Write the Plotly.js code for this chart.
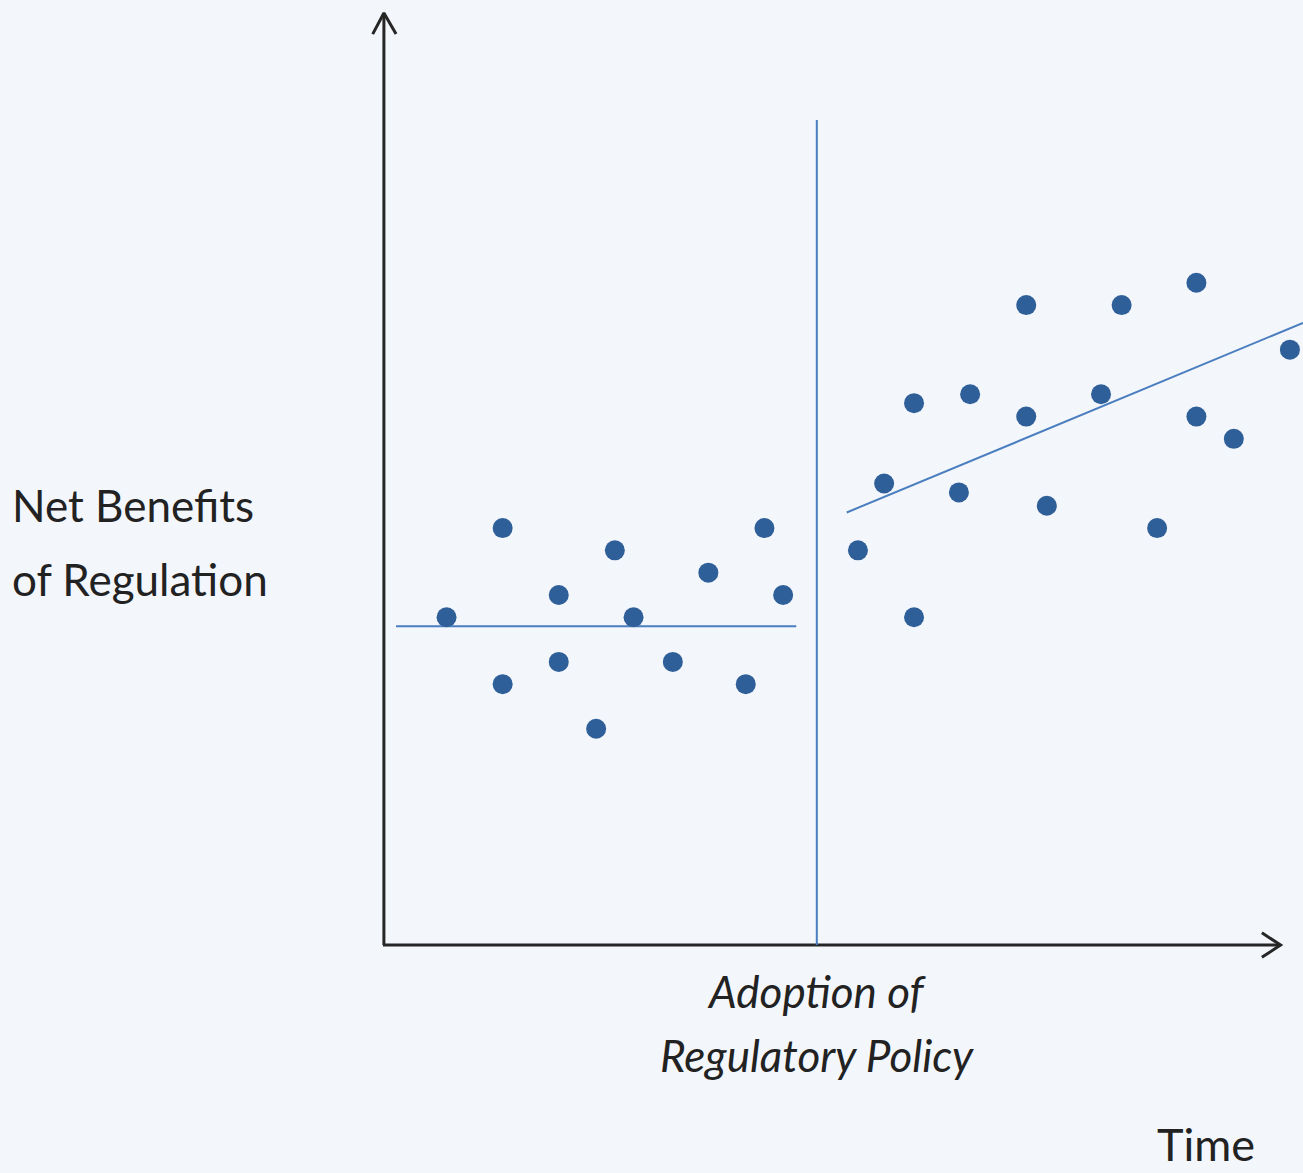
<!DOCTYPE html>
<html>
<head>
<meta charset="utf-8">
<script src="https://cdn.plot.ly/plotly-3.0.1.min.js"></script>
<style>html,body{margin:0;padding:0;background:#f3f6fb;}</style>
</head>
<body>
<div id="chart" style="width:1303px;height:1173px;"></div>
<script>
// Observations before adoption of the policy (time, net benefit)
const beforeX = [3.4, 6.4, 6.4, 9.4, 9.4, 11.4, 12.4, 13.4, 15.5, 17.4, 19.4, 20.4, 21.4];
const beforeY = [14.7, 18.7, 11.7, 15.7, 12.7, 9.7, 17.7, 14.7, 12.7, 16.7, 11.7, 18.7, 15.7];
// Observations after adoption
const afterX = [25.4, 26.8, 28.4, 28.4, 30.8, 31.4, 34.4, 34.4, 35.5, 38.4, 39.5, 41.4, 43.5, 43.5, 45.5, 48.5];
const afterY = [17.7, 20.7, 24.3, 14.7, 20.3, 24.7, 28.7, 23.7, 19.7, 24.7, 28.7, 18.7, 29.7, 23.7, 22.7, 26.7];
// Fitted lines
const beforeFitX = [0.7, 22.1];
const beforeFitY = [14.3, 14.3];
const afterFitX = [24.8, 49.2];
const afterFitY = [19.4, 27.9];
// Adoption marker
const adoptX = [23.2, 23.2];
const adoptY = [0, 37.0];
// Axes with arrowheads
const yAxisX = [0.05, 0.05];
const yAxisY = [0, 41.8];
const yHeadX = [-0.55, 0.05, 0.7];
const yHeadY = [40.85, 41.8, 40.85];
const xAxisX = [0, 48.0];
const xAxisY = [0, 0];
const xHeadX = [47.0, 48.0, 47.0];
const xHeadY = [0.55, 0, -0.55];

const lineBlue = '#4a7ebf';
const dotBlue = '#2f5f99';
const axisCol = '#262626';

const traces = [
  {x: yAxisX, y: yAxisY, mode: 'lines', line: {color: axisCol, width: 3}, hoverinfo: 'skip'},
  {x: yHeadX, y: yHeadY, mode: 'lines', line: {color: axisCol, width: 3}, hoverinfo: 'skip'},
  {x: xAxisX, y: xAxisY, mode: 'lines', line: {color: axisCol, width: 3}, hoverinfo: 'skip'},
  {x: xHeadX, y: xHeadY, mode: 'lines', line: {color: axisCol, width: 3}, hoverinfo: 'skip'},
  {x: adoptX, y: adoptY, mode: 'lines', line: {color: lineBlue, width: 2}},
  {x: beforeFitX, y: beforeFitY, mode: 'lines', line: {color: lineBlue, width: 2}},
  {x: afterFitX, y: afterFitY, mode: 'lines', line: {color: lineBlue, width: 2}},
  {x: beforeX, y: beforeY, mode: 'markers', marker: {color: dotBlue, size: 20}, cliponaxis: false},
  {x: afterX, y: afterY, mode: 'markers', marker: {color: dotBlue, size: 20}, cliponaxis: false}
];

const font = {family: 'Lato, "Open Sans", sans-serif', color: '#222222'};
const layout = {
  width: 1303, height: 1173,
  margin: {l: 0, r: 0, t: 0, b: 0},
  paper_bgcolor: '#f3f6fb', plot_bgcolor: '#f3f6fb',
  showlegend: false,
  xaxis: {range: [-20.48, 49.2], visible: false, fixedrange: true},
  yaxis: {range: [-10.22, 42.38], visible: false, fixedrange: true},
  annotations: [
    {x: -19.95, y: 19.75, xref: 'x', yref: 'y', text: 'Net Benefits', showarrow: false, xanchor: 'left', yanchor: 'middle', font: Object.assign({size: 44}, font)},
    {x: -19.95, y: 16.4, xref: 'x', yref: 'y', text: 'of Regulation', showarrow: false, xanchor: 'left', yanchor: 'middle', font: Object.assign({size: 44}, font)},
    {x: 23.2, y: -2.05, xref: 'x', yref: 'y', text: '<i>Adoption of</i>', showarrow: false, xanchor: 'center', yanchor: 'middle', font: Object.assign({size: 44}, font)},
    {x: 23.2, y: -4.92, xref: 'x', yref: 'y', text: '<i>Regulatory Policy</i>', showarrow: false, xanchor: 'center', yanchor: 'middle', font: Object.assign({size: 44}, font)},
    {x: 44.0, y: -10.2, xref: 'x', yref: 'y', text: 'Time', showarrow: false, xanchor: 'center', yanchor: 'bottom', font: Object.assign({size: 45}, font)}
  ]
};

Plotly.newPlot('chart', traces, layout, {staticPlot: true, displayModeBar: false});
</script>
</body>
</html>
